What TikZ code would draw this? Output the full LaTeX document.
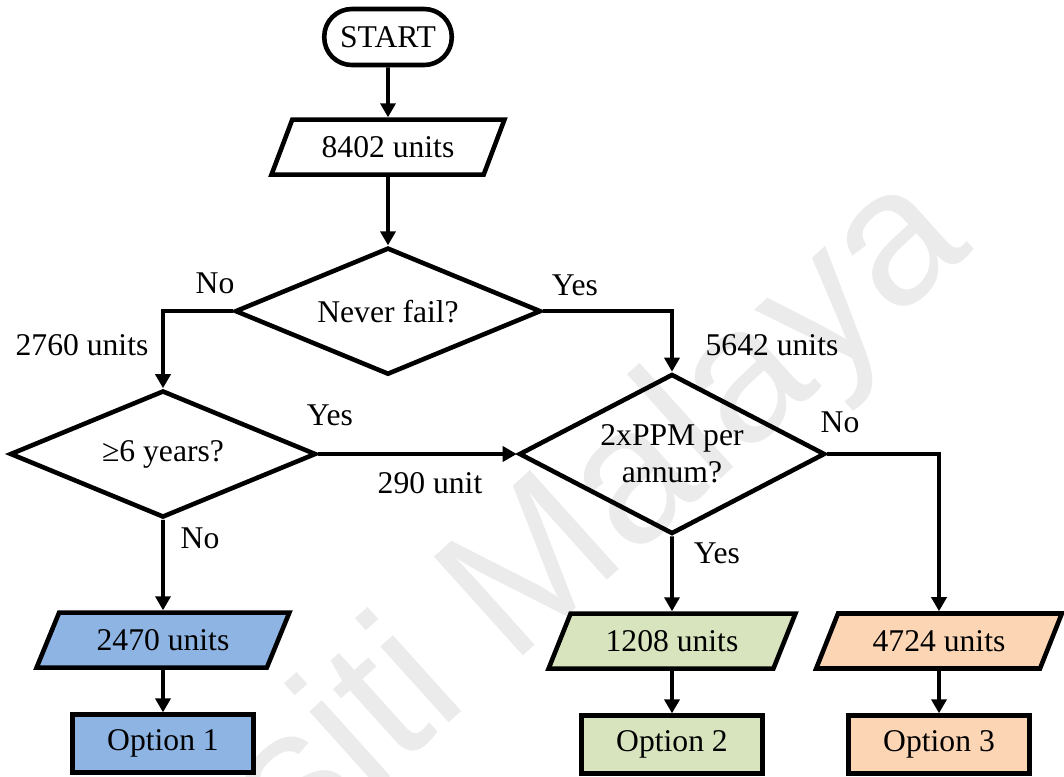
\documentclass[tikz,border=0pt]{standalone}
\usepackage{fontspec}
\setmainfont{Liberation Serif}
\newfontfamily\markfont{Liberation Sans}
\usetikzlibrary{arrows.meta, shapes.geometric, positioning}

\definecolor{optblue}{HTML}{8EB4E3}
\definecolor{optgreen}{HTML}{D7E4BD}
\definecolor{optorange}{HTML}{FCD5B5}

\begin{document}
\begin{tikzpicture}[
		font=\fontsize{18}{21}\selectfont,
		terminal/.style={rectangle, rounded corners=0.55cm, draw, line width=2.6pt, minimum width=2.55cm, minimum height=1.12cm, inner sep=0pt},
		data/.style={trapezium, trapezium left angle=56, trapezium right angle=124, trapezium stretches=true, draw, line width=2.6pt, minimum height=1.1cm, inner sep=0pt},
		decision/.style={diamond, aspect=2.4, draw, line width=2.6pt, minimum width=6.12cm, minimum height=2.54cm, inner sep=0pt, align=center},
		option/.style={rectangle, draw, line width=2.8pt, minimum width=3.62cm, minimum height=1.16cm, inner sep=0pt},
		flow/.style={line width=2.2pt, -{Triangle[length=0.28cm, width=0.3cm]}},
		watermark/.style={font=\markfont\fontsize{110}{110}\selectfont, text=black!8}
		]
		\useasboundingbox (0,0) rectangle (21.28,-15.52);
		
		% faint background stamp
		\begin{scope}
			\clip (0,0) rectangle (21.28,-15.52);
			\node [watermark, rotate=42, anchor=base] (stamp) at (8.56,-14.84) {Universiti Malaya};
		\end{scope}
		
		% main chain
		\node [terminal] (start) at (7.76,-0.74) {START};
		\node [data, minimum width=4.7cm] (total) [below=1.0cm of start] {8402 units};
		\node [decision] (nf) [below=1.37cm of total] {Never fail?};
		\node [decision] (yrs) at (3.26,-9.08) {≥6 years?};
		\node [decision, aspect=1.9, minimum height=3.2cm] (ppm) at (13.44,-9.08) {2xPPM per\\annum?};
		
		% outcomes
		\node [data, minimum width=5.1cm, fill=optblue] (p1) [below=1.81cm of yrs] {2470 units};
		\node [data, minimum width=4.98cm, fill=optgreen] (p2) [below=1.5cm of ppm] {1208 units};
		\node [data, minimum width=4.96cm, fill=optorange] (p3) at (18.78,-12.82) {4724 units};
		\node [option, fill=optblue] (o1) [below=0.85cm of p1] {Option 1};
		\node [option, fill=optgreen] (o2) [below=0.85cm of p2] {Option 2};
		\node [option, fill=optorange] (o3) [below=0.85cm of p3] {Option 3};
		
		\draw [flow] (start) -- (total);
		\draw [flow] (total) -- (nf);
		\draw [flow] (nf.west) -| (yrs.north);
		\draw [flow] (nf.east) -| (ppm.north);
		\draw [flow] (yrs.east) -- (ppm.west);
		\draw [flow] (yrs.south) -- (p1);
		\draw [flow] (ppm.south) -- (p2);
		\draw [flow] (ppm.east) -| (p3.north);
		\draw [flow] (p1) -- (o1);
		\draw [flow] (p2) -- (o2);
		\draw [flow] (p3) -- (o3);
		
		% branch labels
		\node (nf no) at (4.30,-5.66) {No};
		\node (nf yes) at (11.50,-5.70) {Yes};
		\node (left count) at (1.64,-6.90) {2760 units};
		\node (right count) at (15.44,-6.90) {5642 units};
		\node (yrs yes) at (6.60,-8.30) {Yes};
		\node (mid count) at (8.60,-9.66) {290 unit};
		\node (ppm no) at (16.80,-8.44) {No};
		\node (yrs no) at (4.00,-10.76) {No};
		\node (ppm yes) at (14.34,-11.06) {Yes};
	\end{tikzpicture}
\end{document}
